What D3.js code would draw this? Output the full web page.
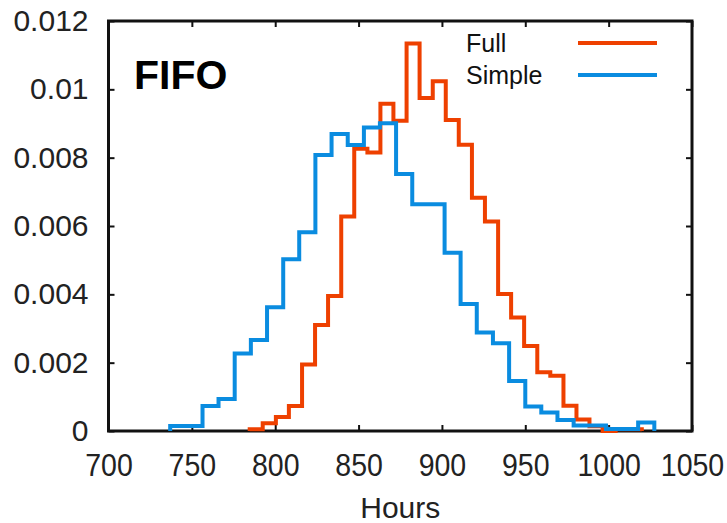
<html>
    <head>
        <script src="https://d3js.org/d3.v7.min.js"></script>
        <style>
            body { margin: 0; background: white; }
            text { font-family: "Liberation Sans", Arial, sans-serif; }
            .axis line { stroke: #111; stroke-width: 2; }
            .axis .domain { stroke: none; }
            .axis text { fill: #222; font-size: 30px; }
        </style>
        <title>FIFO histogram</title>
    </head>
    <body>
        <div id="chart"></div>
        <script>
            // bin edges (hours) and densities
            const fullEdges = [784.7, 792.5, 800.4, 808.2, 816.1, 823.9, 831.7, 839.6, 847.4, 855.3,
                               863.1, 870.9, 878.8, 886.6, 894.5, 902.3, 910.1, 918.0, 925.8, 933.7,
                               941.5, 949.3, 957.2, 965.0, 972.9, 980.7, 988.5, 996.4, 1004.2, 1012.1, 1019.9];
            const fullValues = [0.00005, 0.00023, 0.00041, 0.00073, 0.00195, 0.0031, 0.00395, 0.00628, 0.00826, 0.00815,
                                0.00958, 0.00908, 0.01134, 0.00975, 0.01024, 0.0091, 0.00838, 0.00683, 0.00613, 0.00401,
                                0.00332, 0.00249, 0.00172, 0.00162, 0.00074, 0.00034, 0.00014, 0, 0.00005, 0.00005];

            const simpleEdges = [737.0, 746.7, 756.4, 766.0, 775.7, 785.4, 795.1, 804.8, 814.4, 824.1,
                                 833.8, 843.5, 853.2, 862.8, 872.5, 882.2, 891.9, 901.6, 911.2, 920.9,
                                 930.6, 940.3, 950.0, 959.6, 969.3, 979.0, 988.7, 998.4, 1008.0, 1017.7, 1027.4];
            const simpleValues = [0.00015, 0.00015, 0.00073, 0.00094, 0.00227, 0.00266, 0.00362, 0.00503, 0.00582, 0.00808,
                                  0.00869, 0.00837, 0.00888, 0.00901, 0.00752, 0.00664, 0.00664, 0.00522, 0.00372, 0.00288,
                                  0.00257, 0.00146, 0.00072, 0.00054, 0.00032, 0.00016, 0.00016, 0.00006, 0.00006, 0.00025];

            const xTicks = [700, 750, 800, 850, 900, 950, 1000, 1050];
            const yTicks = [0, 0.002, 0.004, 0.006, 0.008, 0.01, 0.012];

            const seriesNames = ["Full", "Simple"];
            const seriesColors = ["#ee4000", "#0a8ce0"];

            const width = 727;
            const height = 523;
            const margins = {top: 21, right: 35, bottom: 92, left: 108.5};

            let svg = d3.select("#chart").append("svg")
                        .attr("width", width)
                        .attr("height", height);

            let xScale = d3.scaleLinear()
                           .domain([700, 1050])
                           .range([margins.left, width - margins.right]);
            let yScale = d3.scaleLinear()
                           .domain([0, 0.012])
                           .range([height - margins.bottom, margins.top]);

            // axes with inward ticks, gnuplot style
            let bottomAxis = svg.append("g")
               .attr("class", "axis")
               .attr("transform", `translate(0, ${yScale(0)})`)
               .call(d3.axisBottom(xScale).tickValues(xTicks).tickFormat(d => String(d))
                        .tickSizeInner(-6).tickSizeOuter(0).tickPadding(23))
            // x labels in the reference are a bit narrow and tall
            bottomAxis.selectAll("text")
                      .style("font-size", "31px")
                      .attr("transform", "scale(0.92, 1)")

            svg.append("g")
               .attr("class", "axis")
               .attr("transform", `translate(${xScale(700)}, 0)`)
               .call(d3.axisLeft(yScale).tickValues(yTicks).tickFormat(d => String(+d.toFixed(3)))
                        .tickSizeInner(-6).tickSizeOuter(0).tickPadding(20))

            // mirror ticks on top and right
            svg.append("g")
               .attr("class", "axis")
               .attr("transform", `translate(0, ${yScale(0.012)})`)
               .call(d3.axisTop(xScale).tickValues(xTicks).tickSizeInner(-6).tickSizeOuter(0).tickFormat(""))

            svg.append("g")
               .attr("class", "axis")
               .attr("transform", `translate(${xScale(1050)}, 0)`)
               .call(d3.axisRight(yScale).tickValues(yTicks).tickSizeInner(-6).tickSizeOuter(0).tickFormat(""))

            svg.append("rect")
               .attr("x", xScale(700))
               .attr("y", yScale(0.012))
               .attr("width", xScale(1050) - xScale(700))
               .attr("height", yScale(0) - yScale(0.012))
               .attr("fill", "none")
               .attr("stroke", "#111")
               .attr("stroke-width", 3)

            // histogram steps: (e0,0) -> up -> across each bin -> down at the last edge
            let stepLine = d3.line()
                             .x(d => xScale(d[0]))
                             .y(d => yScale(d[1]))
                             .curve(d3.curveStepBefore)

            function stepPoints(edges, values) {
                let pts = [[edges[0], 0]];
                values.forEach((v, i) => pts.push([edges[i + 1], v]));
                pts.push([edges[edges.length - 1], 0]);
                return pts;
            }

            let series = [
                {edges: fullEdges, values: fullValues},
                {edges: simpleEdges, values: simpleValues}
            ];

            series.forEach((s, i) => {
                svg.append("path")
                   .datum(stepPoints(s.edges, s.values))
                   .attr("fill", "none")
                   .attr("stroke", seriesColors[i])
                   .attr("stroke-width", 4)
                   .attr("d", stepLine)
            })

            // legend
            seriesNames.forEach((name, i) => {
                let ly = 43 + i * 32;
                svg.append("text")
                   .attr("x", 466)
                   .attr("y", ly + 9)
                   .style("font-size", "25px")
                   .style("fill", "#111")
                   .text(name)
                svg.append("line")
                   .attr("x1", 578)
                   .attr("x2", 657)
                   .attr("y1", ly)
                   .attr("y2", ly)
                   .attr("stroke", seriesColors[i])
                   .attr("stroke-width", 4)
            })

            svg.append("text")
               .attr("x", 134)
               .attr("y", 89)
               .style("font-size", "41px")
               .style("font-weight", "bold")
               .style("fill", "#000")
               .text("FIFO")

            svg.append("text")
               .attr("x", (xScale(700) + xScale(1050)) / 2)
               .attr("y", 518)
               .attr("text-anchor", "middle")
               .style("font-size", "30px")
               .style("fill", "#222")
               .text("Hours")
        </script>
    </body>
</html>
